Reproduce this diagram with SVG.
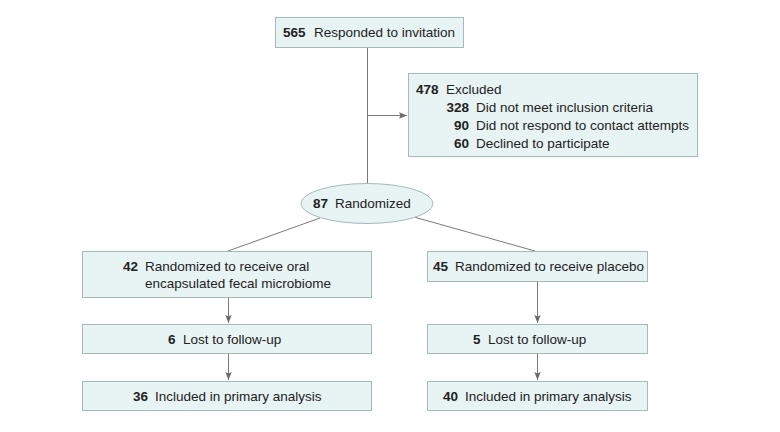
<svg xmlns="http://www.w3.org/2000/svg" width="780" height="432" viewBox="0 0 780 432">
<defs>
<marker id="ah" markerWidth="8" markerHeight="8" viewBox="0 0 8 8" refX="8" refY="4" orient="auto" markerUnits="userSpaceOnUse">
<path d="M0,0.8 L8,4 L0,7.2 L1.5,4 Z" fill="#6b6b6b"/>
</marker>
<style>
.box{fill:#e8f3f4;stroke:#a3babd;stroke-width:1}
.ln{fill:none;stroke:#7a7a7a;stroke-width:1}
text{font-family:"Liberation Sans",Arial,sans-serif;font-size:13.5px;fill:#222}
.b{font-weight:bold}
</style>
</defs>
<rect width="780" height="432" fill="#fff"/>
<g id="connectors">
<line class="ln" x1="367.5" y1="47" x2="367.5" y2="184"/>
<line class="ln" x1="367.5" y1="115.5" x2="407" y2="115.5" marker-end="url(#ah)"/>
<line class="ln" x1="320" y1="218" x2="228" y2="251"/>
<line class="ln" x1="414" y1="217" x2="535" y2="251"/>
<line class="ln" x1="228.5" y1="297" x2="228.5" y2="323" marker-end="url(#ah)"/>
<line class="ln" x1="228.5" y1="353" x2="228.5" y2="380" marker-end="url(#ah)"/>
<line class="ln" x1="537.5" y1="281" x2="537.5" y2="323" marker-end="url(#ah)"/>
<line class="ln" x1="537.5" y1="353" x2="537.5" y2="380" marker-end="url(#ah)"/>
</g>
<g id="responded">
<rect class="box" x="275.5" y="17.5" width="188" height="30"/>
<text x="283" y="37" class="b">565</text>
<text x="314" y="37">Responded to invitation</text>
</g>
<g id="excluded">
<rect class="box" x="408.5" y="73.5" width="289" height="83"/>
<text x="416" y="94" class="b">478</text>
<text x="446" y="94">Excluded</text>
<text x="469" y="112" class="b" text-anchor="end">328</text>
<text x="476" y="112">Did not meet inclusion criteria</text>
<text x="469" y="130" class="b" text-anchor="end">90</text>
<text x="476" y="130">Did not respond to contact attempts</text>
<text x="469" y="148" class="b" text-anchor="end">60</text>
<text x="476" y="148">Declined to participate</text>
</g>
<g id="randomized">
<ellipse class="box" cx="367" cy="203.5" rx="66" ry="20"/>
<text x="313" y="208" class="b">87</text>
<text x="335" y="208">Randomized</text>
</g>
<g id="arm-fmt">
<rect class="box" x="82.5" y="251.5" width="289" height="46"/>
<text x="138" y="271" class="b" text-anchor="end">42</text>
<text x="145" y="271">Randomized to receive oral</text>
<text x="145" y="288">encapsulated fecal microbiome</text>
</g>
<g id="arm-placebo">
<rect class="box" x="427.5" y="251.5" width="220" height="30"/>
<text x="433" y="271" class="b">45</text>
<text x="455" y="271">Randomized to receive placebo</text>
</g>
<g id="lost-fmt">
<rect class="box" x="82.5" y="324.5" width="289" height="29"/>
<text x="168" y="344" class="b">6</text>
<text x="183" y="344">Lost to follow-up</text>
</g>
<g id="lost-placebo">
<rect class="box" x="427.5" y="324.5" width="220" height="29"/>
<text x="473" y="344" class="b">5</text>
<text x="488" y="344">Lost to follow-up</text>
</g>
<g id="incl-fmt">
<rect class="box" x="82.5" y="381.5" width="289" height="29"/>
<text x="133" y="401" class="b">36</text>
<text x="155" y="401">Included in primary analysis</text>
</g>
<g id="incl-placebo">
<rect class="box" x="427.5" y="381.5" width="220" height="29"/>
<text x="443" y="401" class="b">40</text>
<text x="465" y="401">Included in primary analysis</text>
</g>
</svg>
